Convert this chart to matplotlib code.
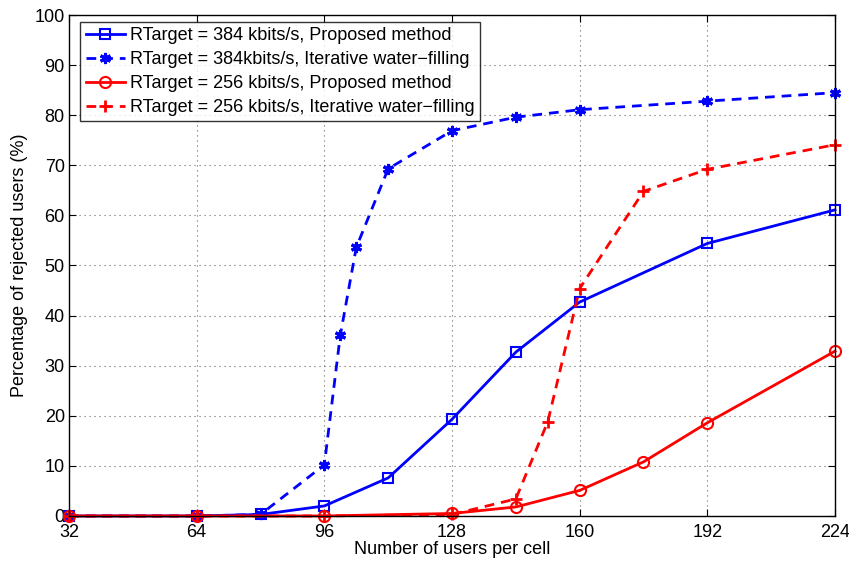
import matplotlib
matplotlib.use("Agg")
import matplotlib.pyplot as plt

# Users per cell
x_blue_prop = [32, 64, 80, 96, 112, 128, 144, 160, 192, 224]
y_blue_prop = [0, 0, 0.3, 2.0, 7.6, 19.3, 32.7, 42.7, 54.4, 61.1]

x_blue_iwf = [32, 64, 80, 96, 100, 104, 112, 128, 144, 160, 192, 224]
y_blue_iwf = [0, 0, 0.3, 10.2, 36.1, 53.6, 69.3, 76.9, 79.6, 81.1, 82.8, 84.5]

x_red_prop = [32, 64, 96, 128, 144, 160, 176, 192, 224]
y_red_prop = [0, 0, 0, 0.5, 1.8, 5.1, 10.8, 18.6, 32.9]

x_red_iwf = [32, 64, 96, 128, 144, 152, 160, 176, 192, 224]
y_red_iwf = [0, 0, 0, 0.3, 3.4, 18.8, 45.4, 64.8, 69.2, 74.1]

labels = [
    "RTarget = 384 kbits/s, Proposed method",
    "RTarget = 384kbits/s, Iterative water\u2212filling",
    "RTarget = 256 kbits/s, Proposed method",
    "RTarget = 256 kbits/s, Iterative water\u2212filling",
]
xticks = [32, 64, 96, 128, 160, 192, 224]
yticks = list(range(0, 101, 10))

plt.rcParams["font.family"] = ["Liberation Sans", "DejaVu Sans"]

fig = plt.figure(figsize=(8.49, 5.62), dpi=100)
ax = fig.add_axes([0.0813, 0.0819, 0.9022, 0.8914])

lw = 2.0
ax.plot(x_blue_prop, y_blue_prop, "-", color="#0000ff", lw=lw, marker="s",
        ms=7, mfc="none", mew=1.5, label=labels[0], clip_on=False)
ax.plot(x_blue_iwf, y_blue_iwf, "--", color="#0000ff", lw=lw, marker=(6, 2, 0),
        ms=8, mew=2.2, label=labels[1], dashes=(3.5, 2.5), clip_on=False)
ax.plot(x_red_prop, y_red_prop, "-", color="#ff0000", lw=lw, marker="o",
        ms=8, mfc="none", mew=1.5, label=labels[2], clip_on=False)
ax.plot(x_red_iwf, y_red_iwf, "--", color="#ff0000", lw=lw, marker="+",
        ms=9, mew=2.0, label=labels[3], dashes=(3.5, 2.5), clip_on=False)

ax.set_xlim(32, 224)
ax.set_ylim(0, 100)
ax.set_xticks(xticks)
ax.set_yticks(yticks)
ax.tick_params(direction="in", top=True, right=True, labelsize=13, length=5)
ax.tick_params(axis="x", pad=6)
ax.tick_params(axis="y", pad=3)
ax.grid(True, color="#666666", linestyle=(0, (1, 3.5)), linewidth=0.8)
for s in ax.spines.values():
    s.set_linewidth(1.0)

ax.set_xlabel("Number of users per cell", fontsize=13, labelpad=0)
ax.set_ylabel("Percentage of rejected users (%)", fontsize=13, labelpad=5)

leg = ax.legend(loc="upper left", bbox_to_anchor=(0.0145, 0.986), fontsize=13,
                frameon=True, fancybox=False, edgecolor="black",
                borderpad=0.3, labelspacing=0.38, handlelength=2.2,
                handletextpad=0.25, borderaxespad=0)
leg.get_frame().set_linewidth(1.0)

fig.savefig("out.png", dpi=100)
